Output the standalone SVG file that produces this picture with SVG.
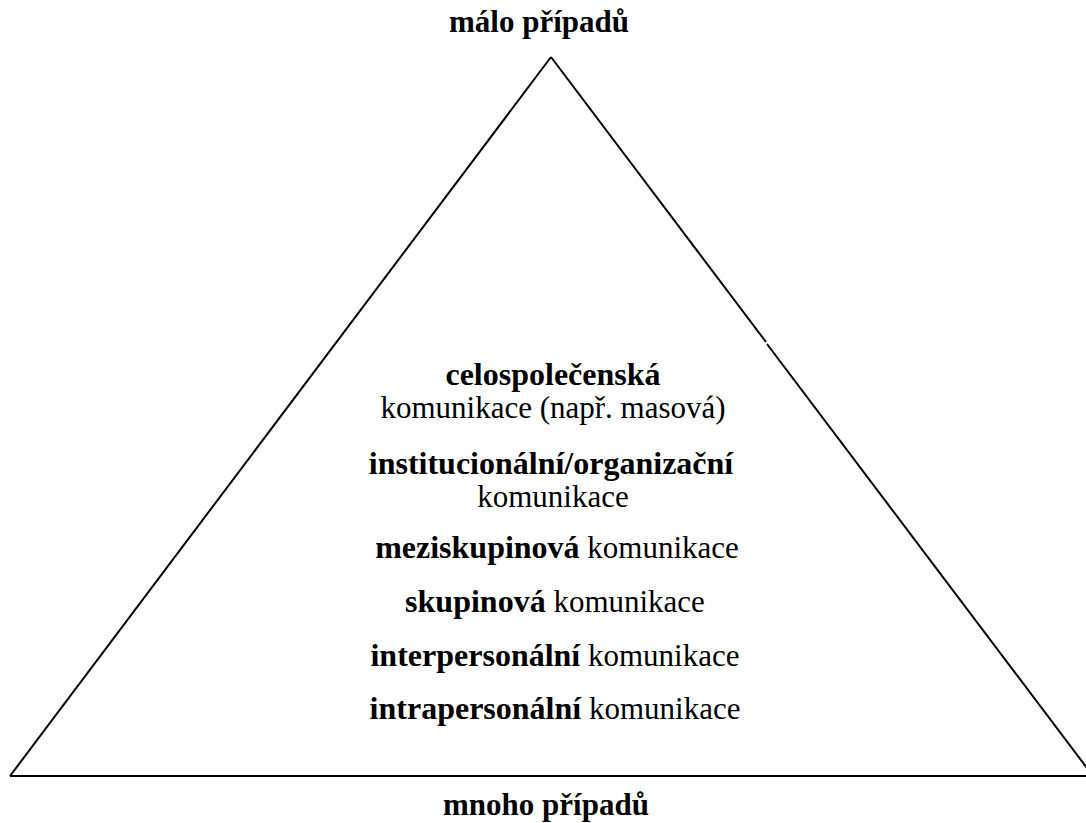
<svg xmlns="http://www.w3.org/2000/svg" width="1086" height="823" viewBox="0 0 1086 823">
  <style>
    text { font-family: "Liberation Serif", "Times New Roman", serif; font-size: 31px; fill: #000; text-anchor: middle; }
    .b { font-weight: bold; font-size: 32px; }
    .label { font-size: 31px; }
    .edge { stroke: #000; stroke-width: 2; fill: none; stroke-linecap: butt; }
  </style>
  <rect width="1086" height="823" fill="#fff"/>

  <!-- pyramid outline -->
  <g id="connectors">
    <line class="edge" x1="551" y1="57" x2="10" y2="776"/>
    <line class="edge" x1="551" y1="57" x2="766" y2="342"/>
    <line class="edge" x1="767" y1="344" x2="1093" y2="776"/>
    <line class="edge" x1="10" y1="776" x2="1086" y2="776"/>
  </g>

  <g id="top-label">
    <text class="b label" x="539" y="32">málo případů</text>
  </g>

  <g id="levels">
    <g id="level-society">
      <text class="b" x="553" y="385">celospolečenská</text>
      <text x="553" y="418">komunikace (např. masová)</text>
    </g>
    <g id="level-institution">
      <text class="b" x="551" y="474">institucionální/organizační</text>
      <text x="553" y="507">komunikace</text>
    </g>
    <g id="level-intergroup">
      <text x="557" y="558"><tspan class="b">meziskupinová</tspan> komunikace</text>
    </g>
    <g id="level-group">
      <text x="555" y="612"><tspan class="b">skupinová</tspan> komunikace</text>
    </g>
    <g id="level-interpersonal">
      <text x="555" y="666"><tspan class="b">interpersonální</tspan> komunikace</text>
    </g>
    <g id="level-intrapersonal">
      <text x="555" y="719"><tspan class="b">intrapersonální</tspan> komunikace</text>
    </g>
  </g>

  <g id="bottom-label">
    <text class="b label" x="546" y="815">mnoho případů</text>
  </g>
</svg>
